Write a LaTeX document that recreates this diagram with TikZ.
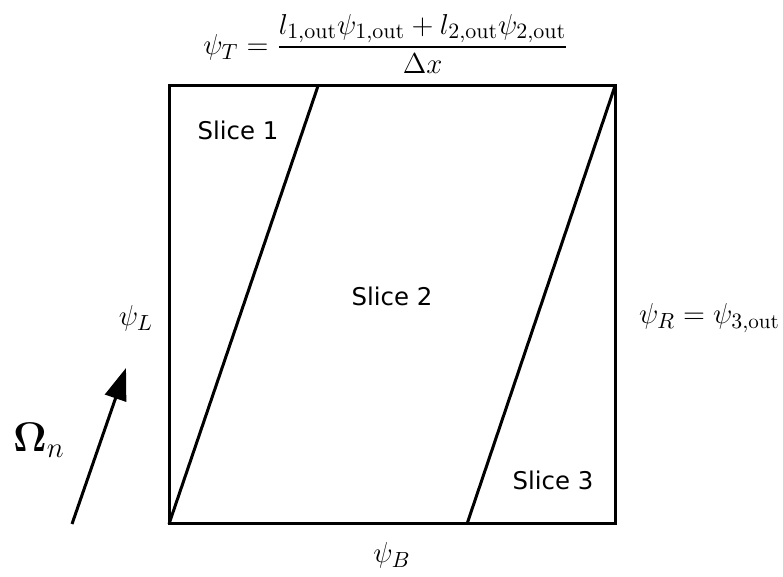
\documentclass[tikz,border=0pt]{standalone}
\usepackage{amsmath,amssymb,bm}
\usepackage{fontspec}
\newfontfamily\slicefont{DejaVu Sans}
\usetikzlibrary{positioning,arrows.meta}

\begin{document}
\begin{tikzpicture}[x=0.5pt,y=-0.5pt,cell/.style={line width=1.5pt,line join=miter},slice/.style={font=\slicefont\fontsize{12.2}{14}\selectfont},flux/.style={font=\fontsize{15}{17}\selectfont}]
\useasboundingbox (0,0) rectangle (783,577);
\coordinate (sw) at (169,524);\coordinate (ne) at (615,86);
\coordinate (t1) at (318,86);\coordinate (b2) at (467,524);
\draw[cell] (sw) rectangle (ne);
\draw[cell] (sw)--(t1);\draw[cell] (b2)--(ne);
\foreach \k/\x/\y in {1/238/130,2/392/296,3/553/480}{\node[slice] (s\k) at (\x,\y) {Slice \k};}
\node[flux,font=\fontsize{15.7}{18}\selectfont] (psiT) at (386,44) {$\psi_T=\dfrac{l_{1,\mathrm{out}}\psi_{1,\mathrm{out}}+l_{2,\mathrm{out}}\psi_{2,\mathrm{out}}}{\Delta x}$};
\node[flux] (psiL) at (136,318) {$\psi_L$};
\node[flux,anchor=west] (psiR) at (632,318) {$\psi_R=\psi_{3,\mathrm{out}}$};
\node[flux] (psiB) at (392,555) {$\psi_B$};
\coordinate (o0) at (72,524);\coordinate (o1) at (126,368);
\draw[line width=1.5pt,-{Triangle[length=16pt,width=11pt]}] (o0)--(o1);
\node[font=\fontsize{21}{23}\selectfont] (om) at (39,440) {$\bm{\Omega}_n$};
\end{tikzpicture}
\end{document}
